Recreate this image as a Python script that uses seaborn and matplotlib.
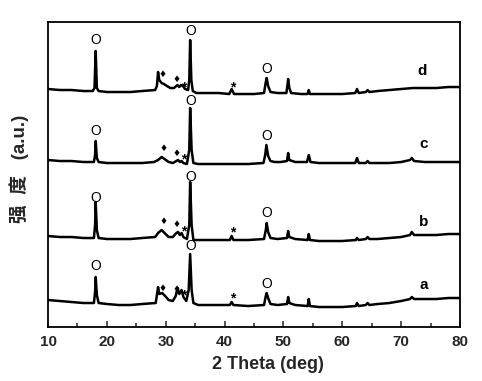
import matplotlib
matplotlib.use("Agg")
import matplotlib.pyplot as plt
import seaborn as sns
from matplotlib.ticker import MultipleLocator

# XRD patterns (2 theta in deg, stacked intensity in a.u.)
x_d = [10, 12, 14, 16, 17.6, 17.9, 18.1, 18.3, 18.6, 20, 22, 24, 26, 28.2, 28.5, 28.7, 28.9, 29.3, 29.7, 30.2,
       30.8, 31.4, 31.8, 32.0, 32.3, 32.6, 32.9, 33.3, 33.8, 34.0, 34.15, 34.35, 34.6, 35.2, 37, 39, 40.8, 41.2,
       41.6, 43, 45, 46.7, 47.0, 47.15, 47.4, 47.8, 49, 50.5, 50.7, 50.8, 51.0, 51.3, 53, 54.1, 54.3, 54.5, 56,
       58, 60, 62.2, 62.5, 62.8, 64.0, 64.3, 64.6, 66, 68, 70, 72, 74, 76, 78, 80]
y_d = [238, 237, 237, 236, 236, 239, 276, 239, 236, 235, 235, 235, 236, 237, 241, 255, 247, 244, 243, 241,
       239, 239, 241, 242, 240, 242, 241, 238, 237, 247, 287, 247, 236, 234, 234, 234, 233, 238,
       233, 233, 233, 234, 245, 249, 241, 235, 234, 234, 243, 248, 239, 234, 233, 233, 237, 233, 233,
       233, 233, 234, 238, 234, 235, 237, 235, 236, 237, 238, 239, 239, 239, 240, 240]

x_c = [10, 12, 14, 16, 17.8, 18.0, 18.1, 18.3, 18.6, 20, 22, 24, 26, 28, 28.7, 29.3, 29.8, 30.5, 31.2, 31.8,
       32.1, 32.4, 32.7, 33.0, 33.6, 34.0, 34.15, 34.4, 34.7, 35.5, 38, 41, 44, 46.6, 46.9, 47.1, 47.4, 47.8,
       48.5, 49.5, 50.6, 50.8, 51.0, 52, 54.0, 54.3, 54.6, 56, 58, 60, 62.2, 62.5, 62.8, 64, 64.3, 64.6, 66,
       68, 70, 71.5, 71.8, 72.2, 74, 76, 78, 80]
y_c = [167, 166, 166, 165, 165, 172, 186, 169, 165, 164, 164, 164, 164, 165, 167, 170, 168, 165, 164, 166,
       167, 165, 166, 164, 163, 177, 219, 177, 164, 163, 163, 163, 163, 164, 172, 182, 171, 166,
       165, 165, 166, 174, 167, 165, 165, 172, 165, 164, 164, 164, 164, 169, 164, 164, 166, 164, 164,
       164, 165, 167, 169, 166, 165, 165, 165, 165]

x_b = [10, 12, 14, 16, 17.8, 18.0, 18.1, 18.3, 18.6, 20, 22, 24, 26, 28.2, 28.7, 29.3, 29.8, 30.5, 31.2, 31.8,
       32.1, 32.4, 32.7, 33.0, 33.6, 34.0, 34.15, 34.4, 34.7, 35.5, 38, 40.9, 41.2, 41.5, 44, 46.7, 47.0, 47.15,
       47.4, 47.8, 49, 50.6, 50.8, 51.0, 52, 54.1, 54.3, 54.5, 56, 58, 60, 62.3, 62.5, 62.8, 64, 64.3, 64.6,
       66, 68, 70, 71.5, 71.8, 72.2, 74, 76, 78, 80]
y_b = [91, 90, 90, 89, 89, 102, 125, 97, 89, 88, 88, 88, 89, 90, 94, 97, 94, 90, 90, 94,
       95, 92, 94, 90, 88, 102, 145, 102, 87, 87, 87, 87, 91, 87, 87, 88, 97, 104,
       95, 89, 88, 89, 96, 90, 88, 87, 93, 87, 86, 86, 86, 87, 89, 87, 88, 90, 88,
       88, 89, 90, 92, 95, 92, 92, 92, 93, 93]

x_a = [10, 12, 14, 16, 17.8, 18.0, 18.1, 18.3, 18.6, 20, 22, 24, 26, 28.3, 28.5, 28.7, 28.9, 29.4, 29.9, 30.5,
       31.2, 31.7, 32.0, 32.3, 32.7, 33.0, 33.5, 33.9, 34.15, 34.4, 34.7, 35.5, 38, 40.9, 41.2, 41.5, 44, 46.7,
       47.0, 47.15, 47.4, 47.8, 49, 50.6, 50.8, 51.0, 52, 54.1, 54.3, 54.5, 56, 58, 60, 62.3, 62.5, 62.8, 64,
       64.3, 64.6, 66, 68, 70, 71.5, 71.8, 72.2, 74, 76, 78, 80]
y_a = [27, 26, 25, 24, 24, 35, 50, 32, 24, 23, 22, 22, 23, 24, 32, 40, 33, 34, 31, 27,
       26, 31, 39, 33, 37, 30, 26, 37, 73, 37, 24, 22, 22, 22, 25, 22, 21, 22,
       31, 34, 29, 23, 22, 23, 30, 24, 22, 21, 28, 21, 20, 20, 20, 21, 24, 21, 22,
       24, 22, 23, 24, 26, 28, 30, 28, 28, 28, 29, 29]

sample_names = ["a", "b", "c", "d"]

# phase marks: "O" peaks, diamond and asterisk peaks (x, y)
o_marks = [(18.1, 61), (34.2, 81), (47.1, 43),
           (18.1, 129), (34.2, 150), (47.1, 114),
           (18.1, 196), (34.2, 226), (47.1, 191),
           (18.1, 287), (34.2, 296), (47.1, 258)]
diamond_marks = [(29.5, 39), (31.9, 38), (29.6, 106), (31.9, 103), (29.6, 179), (31.9, 174), (29.5, 253), (31.8, 248)]
star_marks = [(33.0, 32), (41.3, 29), (33.0, 96), (41.3, 95), (33.0, 168), (33.0, 240), (41.3, 240)]
name_pos = [(73.9, 42), (73.9, 105), (73.9, 183), (73.6, 256)]

sns.set_style("ticks")
plt.rcParams["font.family"] = ["Liberation Sans", "Noto Sans CJK SC", "DejaVu Sans"]

fig = plt.figure(figsize=(4.82, 3.81), dpi=100)
ax = fig.add_axes([0.0996, 0.1417, 0.8548, 0.8005])

for xs, ys in [(x_a, y_a), (x_b, y_b), (x_c, y_c), (x_d, y_d)]:
    sns.lineplot(x=xs, y=ys, ax=ax, color="black", lw=1.8, estimator=None, sort=False)

for x, y in o_marks:
    ax.text(x, y, "O", ha="center", va="center", fontsize=10, color="black")
for x, y in diamond_marks:
    ax.text(x, y, "♦", ha="center", va="center", fontsize=6.5, color="black", family="DejaVu Sans")
for x, y in star_marks:
    ax.text(x, y, "*", ha="center", va="center", fontsize=10, fontweight="bold", color="black")
for name, (x, y) in zip(sample_names, name_pos):
    ax.text(x, y, name, ha="center", va="center", fontsize=11, fontweight="bold", color="black")

ax.set_xlim(10, 80)
ax.set_ylim(0, 305)
ax.set_yticks([])
ax.xaxis.set_major_locator(MultipleLocator(10))
ax.xaxis.set_minor_locator(MultipleLocator(5))
ax.tick_params(axis="x", which="major", direction="in", length=4, width=1.1, pad=6, labelsize=11)
ax.tick_params(axis="x", which="minor", direction="in", length=3, width=1.1)
for lab in ax.get_xticklabels():
    lab.set_fontweight("bold")
for sp in ax.spines.values():
    sp.set_linewidth(1.3)
    sp.set_color("black")

ax.set_xlabel("2 Theta (deg)", fontsize=13, fontweight="bold")
ax.xaxis.set_label_coords(0.534, -0.095)
ax.set_ylabel("强  度   (a.u.)", fontsize=13.5, fontweight="bold")
ax.yaxis.set_label_coords(-0.045, 0.52)

fig.savefig("out.png", dpi=100)
